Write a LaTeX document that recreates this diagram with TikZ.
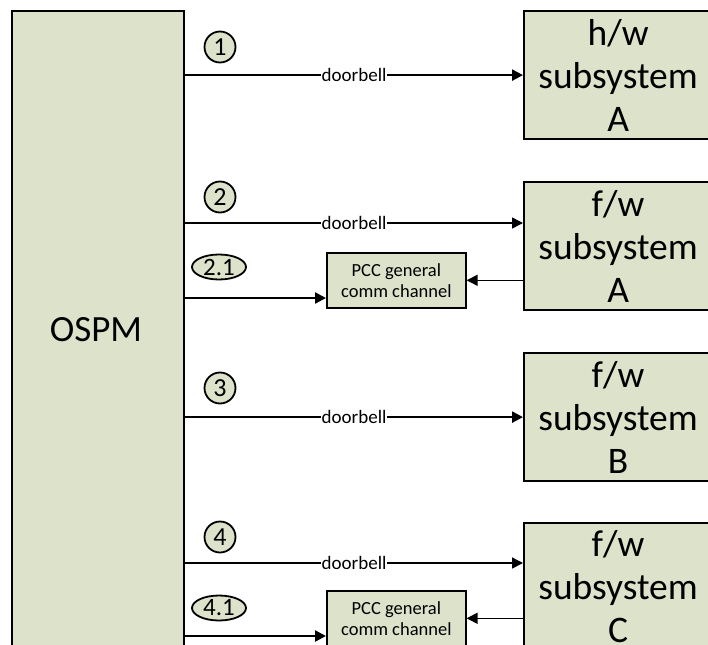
\documentclass[tikz,border=0pt]{standalone}
\usepackage{fontspec}
\setmainfont{Carlito}
\usetikzlibrary{arrows.meta, shapes.geometric}
\definecolor{boxgreen}{RGB}{221,226,203}

\begin{document}
\begin{tikzpicture}[
    x=1pt, y=-1pt,
    blockbox/.style={draw=black, line width=2.2pt, fill=boxgreen, inner sep=0pt, anchor=north west},
    subbox/.style={blockbox, minimum width=188pt, minimum height=128pt, align=center, font=\fontsize{37.5}{43}\selectfont},
    pccbox/.style={draw=black, line width=1.6pt, fill=boxgreen, inner sep=0pt, anchor=north west, minimum width=139pt, minimum height=55pt, align=center, font=\fontsize{18.5}{21}\selectfont},
    stepnum/.style={circle, draw=black, line width=1.8pt, fill=boxgreen, minimum size=31pt, inner sep=0pt, font=\fontsize{26}{26}\selectfont},
    substepnum/.style={ellipse, draw=black, line width=1.8pt, fill=boxgreen, minimum width=54pt, minimum height=25pt, inner sep=0pt, font=\fontsize{25}{25}\selectfont},
    bell/.style={fill=white, inner sep=0.5pt, font=\fontsize{19}{19}\selectfont},
    heavy/.style={-{Triangle[length=11pt, width=11pt]}, line width=2.3pt},
    light/.style={-{Triangle[length=11pt, width=11pt]}, line width=1.5pt}
]
    \clip (0,0) rectangle (708,644);

    % --- OSPM and subsystems ---
    \node[blockbox, minimum width=172pt, minimum height=680pt] (ospm) at (11,10) {};
    \node[font=\fontsize{37}{37}\selectfont] (ospmlbl) at (96,330) {OSPM};

    \node[subbox] (hwa) at (523,10) {h/w\\subsystem\\A};
    \node[subbox] (fwa) at (523,181) {f/w\\subsystem\\A};
    \node[subbox] (fwb) at (523,352) {f/w\\subsystem\\B};
    \node[subbox] (fwc) at (523,522) {f/w\\subsystem\\C};

    % --- PCC channels ---
    \node[pccbox] (pcca) at (326,252) {PCC general\\comm channel};
    \node[pccbox] (pccc) at (326,590) {PCC general\\comm channel};

    % --- step markers ---
    \node[stepnum] (s1) at (220,47) {1};
    \node[stepnum] (s2) at (220,197) {2};
    \node[substepnum] (s21) at (219,267) {2.1};
    \node[stepnum] (s3) at (220,388) {3};
    \node[stepnum] (s4) at (220,537) {4};
    \node[substepnum] (s41) at (219,608) {4.1};

    % --- doorbells ---
    \draw[heavy] (ospm.east |- hwa.west) -- node[bell] {doorbell} (hwa.west);
    \draw[light] (ospm.east |- 0,223) -- node[bell] {doorbell} (fwa.west |- 0,223);
    \draw[heavy] (ospm.east |- fwb.west) -- node[bell] {doorbell} (fwb.west);
    \draw[light] (ospm.east |- 0,563) -- node[bell] {doorbell} (fwc.west |- 0,563);

    % --- general comm channel ---
    \draw[heavy] (ospm.east |- 0,298) -- (pcca.west |- 0,298);
    \draw[light] (fwa.west |- pcca.east) -- (pcca.east);
    \draw[heavy] (ospm.east |- 0,636) -- (pccc.west |- 0,636);
    \draw[light] (fwc.west |- pccc.east) -- (pccc.east);
\end{tikzpicture}
\end{document}
